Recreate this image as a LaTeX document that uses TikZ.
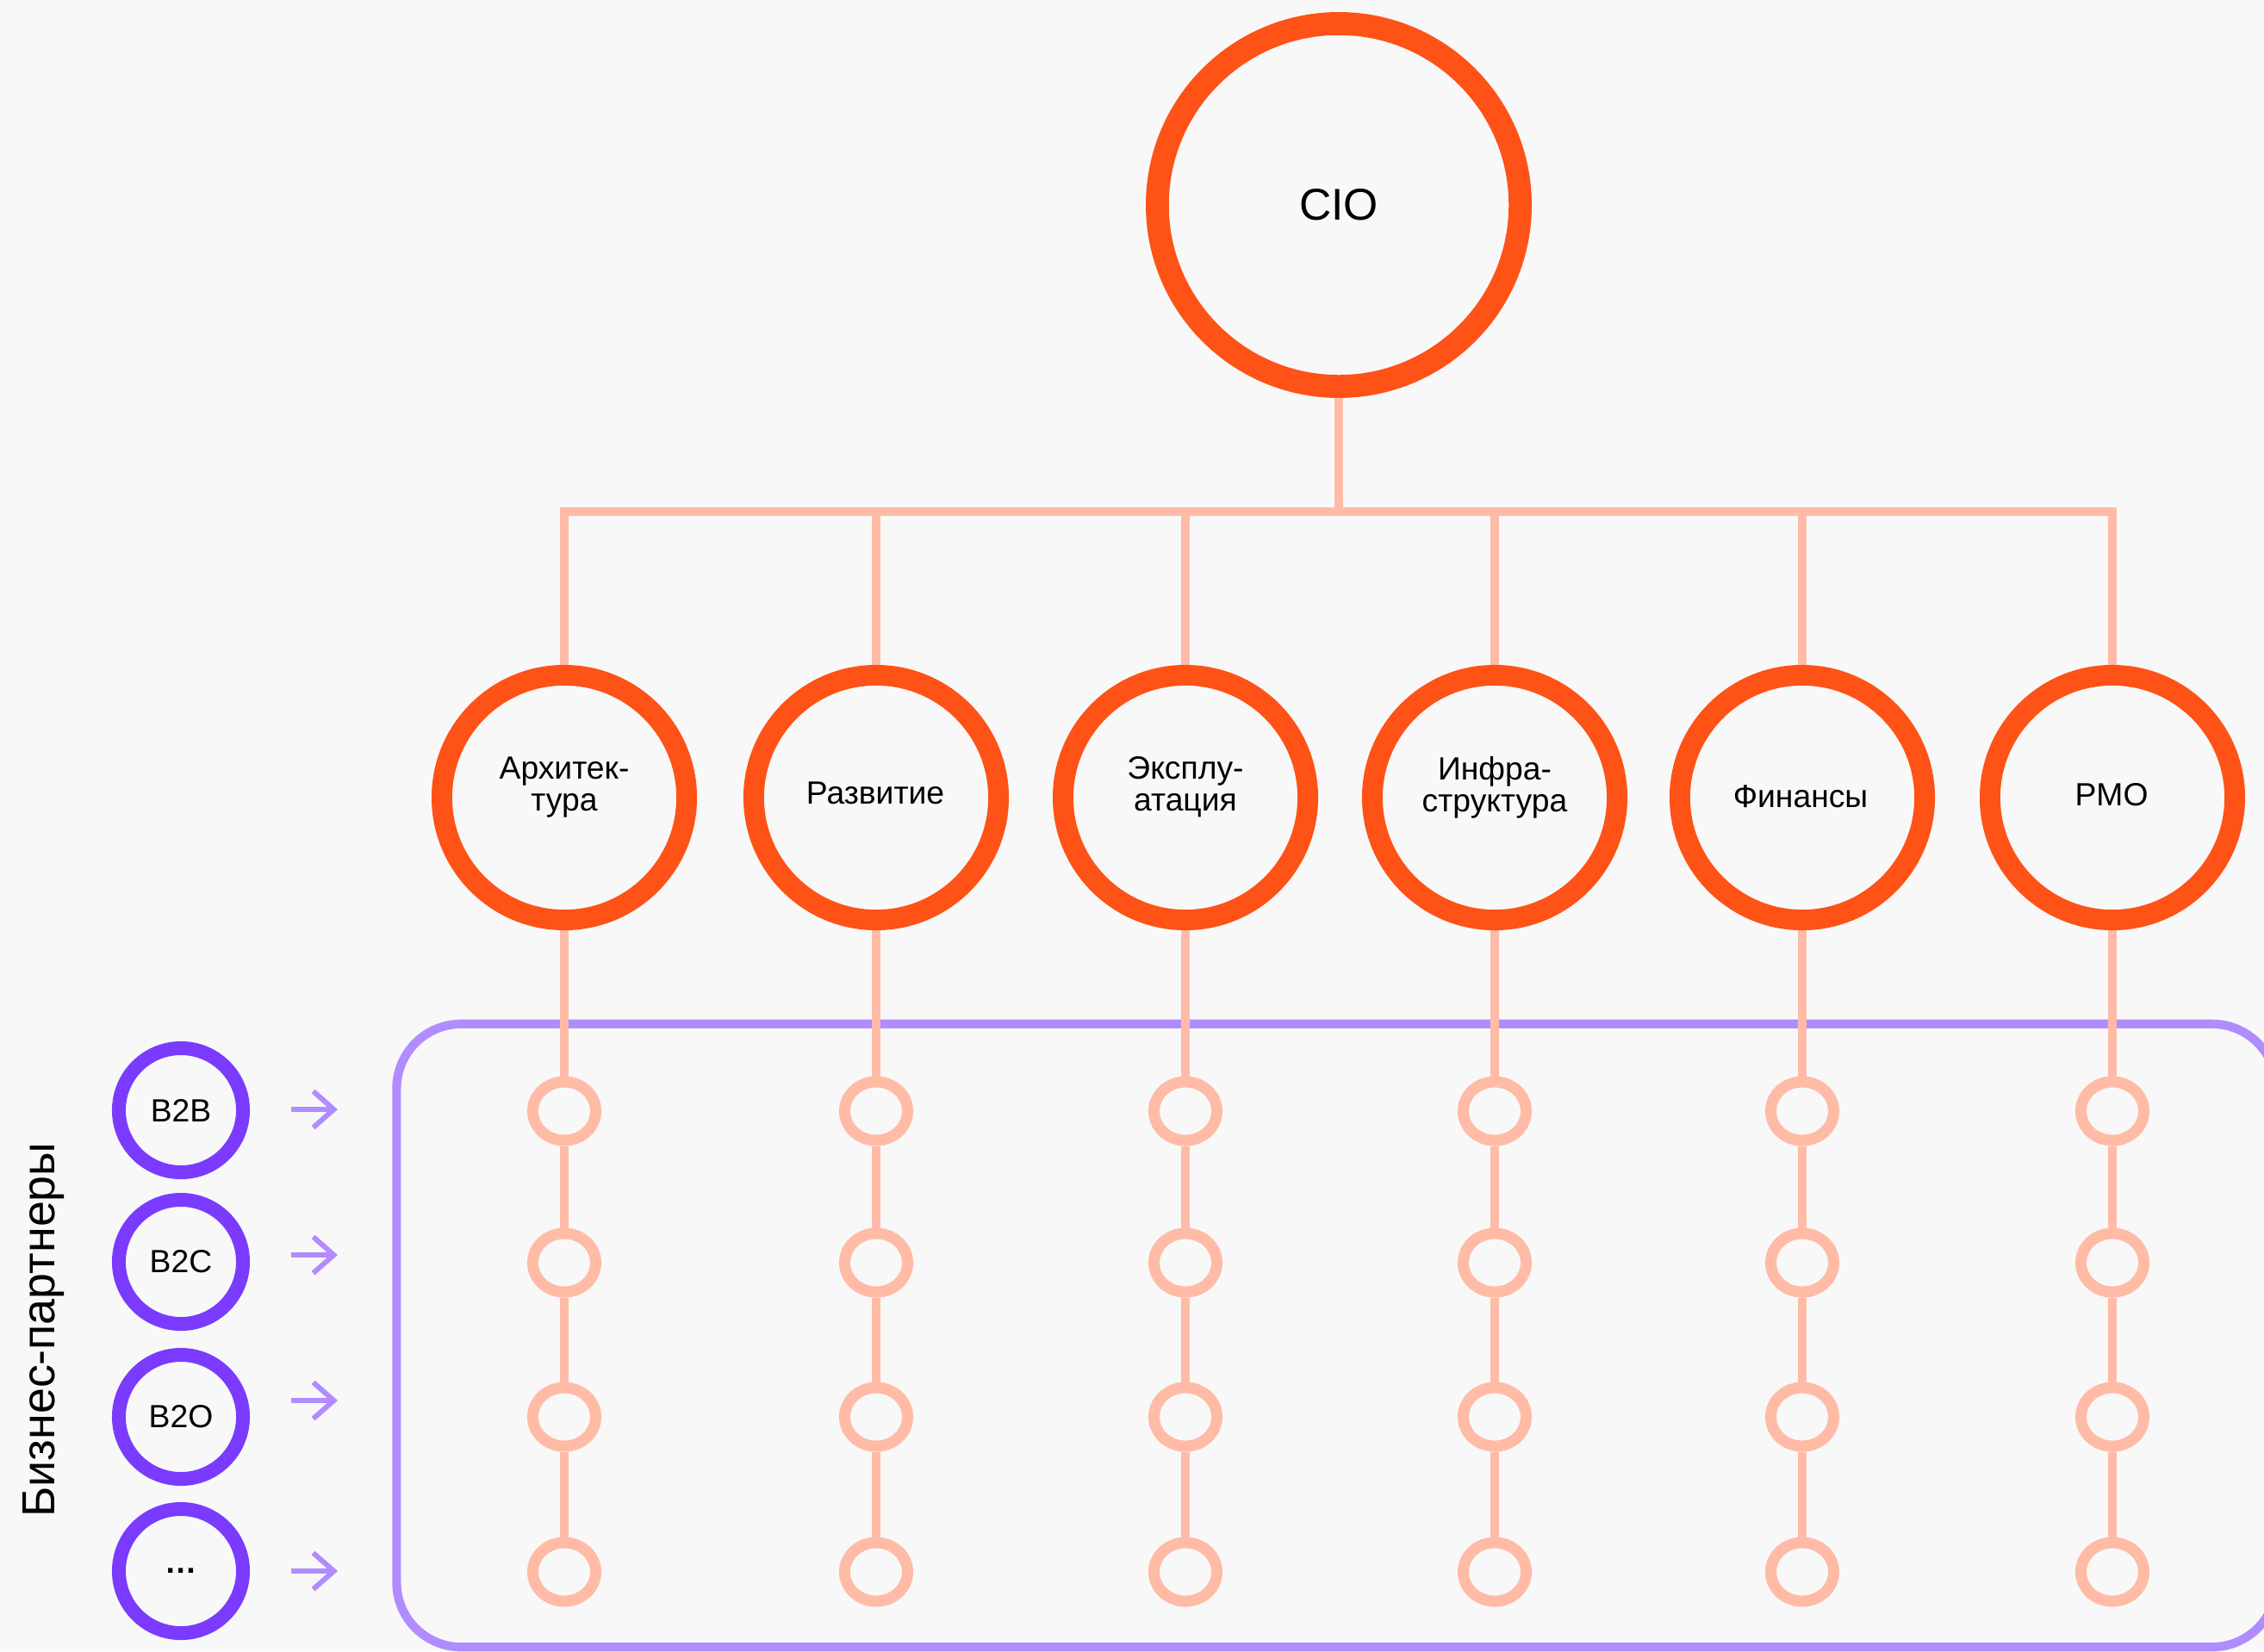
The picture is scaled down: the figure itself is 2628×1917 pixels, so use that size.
\documentclass[tikz,border=0pt]{standalone}
\usepackage{fontspec}
\setmainfont{Liberation Sans}
\usetikzlibrary{shapes.geometric,arrows.meta}

\definecolor{paper}{HTML}{F8F8F8}
\definecolor{hot}{HTML}{FF5216}
\definecolor{soft}{HTML}{FFBBA6}
\definecolor{violet}{HTML}{7A3BFF}
\definecolor{lilac}{HTML}{B18CFF}

\pgfdeclarelayer{back}
\pgfdeclarelayer{wires}
\pgfsetlayers{back,wires,main}

\begin{document}
\begin{tikzpicture}[x=0.01cm,y=-0.01cm,
  head/.style={circle,draw=hot,line width=7.6pt,fill=paper,minimum size=4.21cm,inner sep=0pt,
    font=\fontsize{14.7}{17}\selectfont},
  dept/.style={circle,draw=hot,line width=6.8pt,fill=paper,minimum size=2.84cm,inner sep=0pt},
  deptlbl/.style={align=center,inner sep=0pt,font=\fontsize{10.6}{10.5}\selectfont},
  slot/.style={ellipse,draw=soft,line width=3.7pt,fill=paper,minimum width=0.73cm,
    minimum height=0.68cm,inner sep=0pt},
  partner/.style={circle,draw=violet,line width=4.55pt,fill=paper,minimum size=1.44cm,
    inner sep=0pt,font=\fontsize{10.6}{12}\selectfont},
  link/.style={draw=soft,line width=2.85pt},
  feed/.style={draw=lilac,line width=1.7pt,-{Straight Barb[length=6.8pt,width=12pt]}},
  frame/.style={draw=lilac,line width=2.9pt,rounded corners=0.75cm,inner sep=0pt},
]
\useasboundingbox (0,0) rectangle (2628,1917);

\begin{pgfonlayer}{back}
  \fill[paper] (0,0) rectangle (2628,1917);
  % business-partner area
  \node[frame,minimum width=21.81cm,minimum height=7.23cm] (area) at (1551.5,1550.5) {};
\end{pgfonlayer}

% top of the hierarchy
\node[head] (head) at (1554,238) {CIO};
\coordinate (bus) at (1554,594);

% departments with their slots
\foreach \i/\x in {1/655,2/1017,3/1376,4/1735,5/2092,6/2452} {
  \node[dept] (d\i) at (\x,926) {};
  \foreach \r/\y in {1/1290,2/1466,3/1645,4/1825}
    \node[slot] (s\i\r) at (\x,\y) {};
}

\node[deptlbl] (t1) at (655,914) {Архитек-\\тура};
\node[deptlbl,anchor=base] (t2) at (1016,933) {Развитие};
\node[deptlbl] (t3) at (1376,914) {Эксплу-\\атация};
\node[deptlbl] (t4) at (1735,914) {Инфра-\\структура};
\node[deptlbl,anchor=base] (t5) at (2090,937) {Финансы};
\node[deptlbl,anchor=base] (t6) at (2451,935) {PMO};

% business partners
\node[partner] (p1) at (210,1289) {B2B};
\node[partner] (p2) at (210,1465) {B2C};
\node[partner] (p3) at (210,1645) {B2O};
\node[partner] (p4) at (210,1824) {\textbf{…}};

\node[rotate=90,anchor=base,font=\fontsize{15.3}{17}\selectfont] (side) at (63,1544) {Бизнес-партнеры};

% partner arrows
\foreach \k/\y in {1/1288,2/1457,3/1626,4/1824} {
  \coordinate (a\k) at (338,\y);
  \coordinate (b\k) at (392,\y);
  \draw[feed] (a\k) -- (b\k);
}

\begin{pgfonlayer}{wires}
  \draw[link] (head.south) -- (head.south |- bus);
  \draw[link,line join=miter] (d1.north) -- (d1.north |- bus) -- (d6.north |- bus) -- (d6.north);
  \foreach \i in {2,...,5}
    \draw[link] (d\i.north) -- (d\i.north |- bus);
  \foreach \i in {1,...,6} {
    \draw[link] (d\i.south) -- (s\i1.north);
    \draw[link] (s\i1.south) -- (s\i2.north);
    \draw[link] (s\i2.south) -- (s\i3.north);
    \draw[link] (s\i3.south) -- (s\i4.north);
  }
\end{pgfonlayer}
\end{tikzpicture}
\end{document}
